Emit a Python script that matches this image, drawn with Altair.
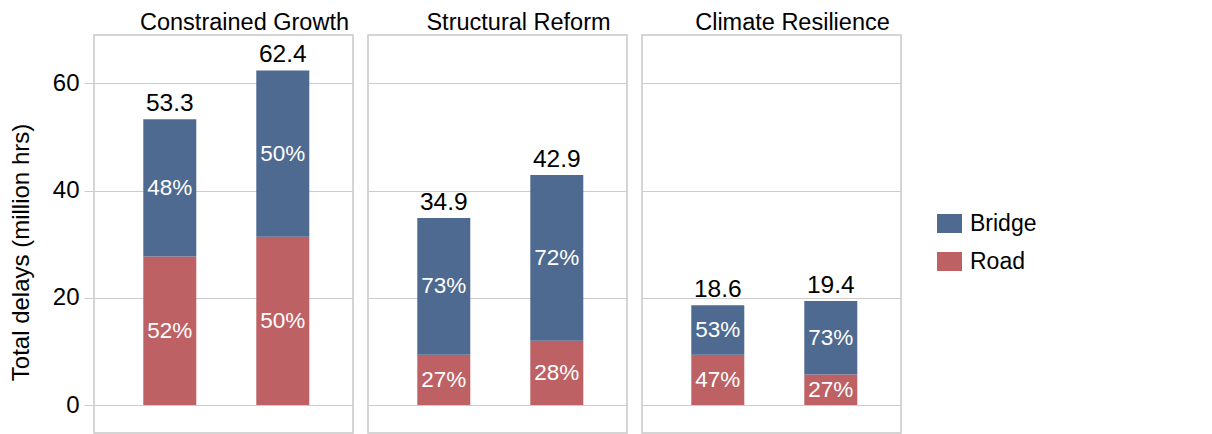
import altair as alt
import pandas as pd

scenarios = ["Constrained Growth", "Structural Reform", "Climate Resilience"]
bar_ids = ["A", "B"]
road = [27.7, 31.4, 9.4, 12.0, 9.4, 5.7]
bridge = [25.6, 31.0, 25.5, 30.9, 9.2, 13.7]
road_pct = ["52%", "50%", "27%", "28%", "47%", "27%"]
bridge_pct = ["48%", "50%", "73%", "72%", "53%", "73%"]
types = ["Bridge", "Road"]
colors = ["#4e6a91", "#be6164"]
y_ticks = [0, 20, 40, 60]

FONT = "Liberation Sans"

rows = []
for i in range(len(road)):
    sc = scenarios[i // 2]
    b = bar_ids[i % 2]
    total = road[i] + bridge[i]
    rows.append(dict(scenario=sc, bar=b, type="Road", start=0.0, end=road[i],
                     mid=road[i] / 2, pct=road_pct[i], total=f"{total:.1f}"))
    rows.append(dict(scenario=sc, bar=b, type="Bridge", start=road[i], end=total,
                     mid=road[i] + bridge[i] / 2, pct=bridge_pct[i], total=f"{total:.1f}"))
df = pd.DataFrame(rows)

x = alt.X("bar:N", axis=None,
          scale=alt.Scale(paddingInner=0.531, paddingOuter=0.4115, align=0.53))
yscale = alt.Scale(domain=[-5.2, 69], nice=False, zero=False)

color = alt.Color("type:N", scale=alt.Scale(domain=types, range=colors),
                  legend=alt.Legend(title=None, orient="none", legendX=843, legendY=176,
                                    labelFontSize=23, labelFont=FONT, labelColor="black",
                                    symbolType="M-1,-0.76H1V0.76H-1Z", symbolSize=625,
                                    symbolStrokeWidth=0, symbolOpacity=1,
                                    rowPadding=13, labelOffset=8))


def panel(i):
    sc = scenarios[i]
    if i == 0:
        axis = alt.Axis(values=y_ticks, tickSize=10, tickColor="#cccccc",
                        gridColor="#cccccc", domain=False, labelFontSize=24,
                        labelPadding=5, titleFontSize=24, titlePadding=19,
                        titleY=217, labelColor="black", titleColor="black",
                        titleFontWeight="normal", labelFont=FONT, titleFont=FONT)
        ytitle = "Total delays (million hrs)"
    else:
        axis = alt.Axis(values=y_ticks, gridColor="#cccccc", domain=False,
                        labels=False, ticks=False)
        ytitle = None
    bars = alt.Chart().mark_bar().encode(
        x=x,
        y=alt.Y("start:Q", scale=yscale, title=ytitle, axis=axis),
        y2="end:Q",
        color=color,
    )
    pct = alt.Chart().mark_text(color="white", fontSize=22.5, baseline="middle",
                                font=FONT).encode(x=x, y=alt.Y("mid:Q"), text="pct:N")
    tot = alt.Chart().mark_text(color="black", fontSize=24.5, baseline="bottom", dy=-3,
                                font=FONT).transform_filter(
        alt.datum.type == "Bridge").encode(x=x, y="end:Q", text="total:N")
    return alt.layer(bars, pct, tot, data=df).transform_filter(
        alt.datum.scenario == sc).properties(
        width=259, height=398,
        title=alt.TitleParams(sc, fontSize=23.5, font=FONT, fontWeight="normal",
                              color="black", anchor="middle", frame="group",
                              dx=21, offset=1))


chart = alt.hconcat(*[panel(i) for i in range(3)], spacing=13).configure_view(
    stroke="#c8c8c8", strokeWidth=1.5).properties(
    padding={"left": 0, "top": 1, "right": 5, "bottom": 0})

chart.save("out.html", embed_options={"renderer": "svg", "actions": False})
